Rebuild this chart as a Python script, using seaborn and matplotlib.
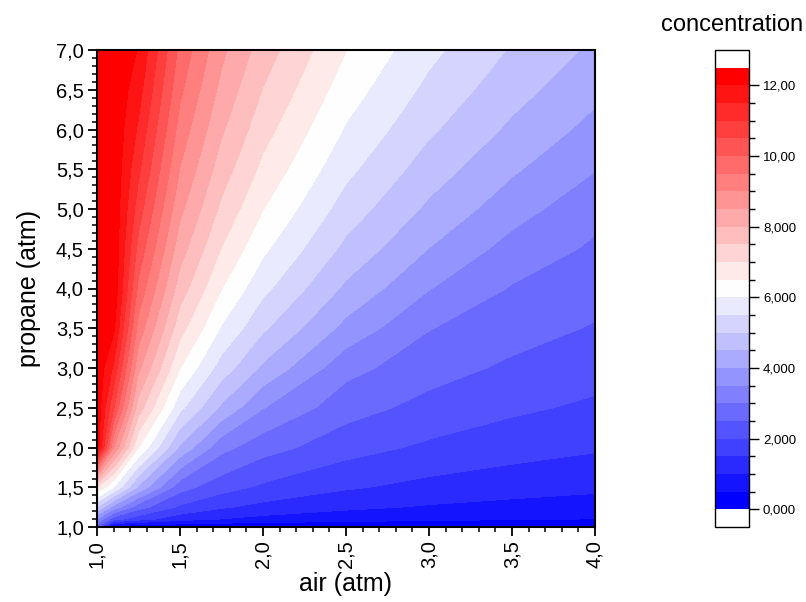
# -*- coding: utf-8 -*-
import numpy as np
import matplotlib
matplotlib.use("Agg")
import matplotlib.pyplot as plt
import seaborn as sns
from matplotlib.colors import ListedColormap, BoundaryNorm
from matplotlib.cm import ScalarMappable
from matplotlib.ticker import MultipleLocator, FixedLocator, FuncFormatter

# Grid: air pressure (x) and propane pressure (y), in atm
air_atm = [1.0, 1.1, 1.25, 1.5, 1.75, 2.0, 2.5, 3.0, 3.5, 4.0]
propane_atm = [1.0, 1.1, 1.25, 1.5, 2.0, 2.5, 3.0, 3.5, 4.0, 4.5, 5.0, 5.5, 6.0, 6.5, 7.0]

# Concentration, one row per propane value (bottom to top), one column per air value
concentration = [
    [2.5, 0.05, 0.05, 0.05, 0.05, 0.05, 0.05, 0.05, 0.05, 0.05],
    [3.5, 2.20, 1.71, 1.21, 0.99, 0.85, 0.70, 0.60, 0.54, 0.49],
    [5.0, 3.80, 2.70, 1.91, 1.56, 1.35, 1.10, 0.95, 0.85, 0.78],
    [7.0, 6.00, 4.40, 2.70, 2.20, 1.91, 1.56, 1.35, 1.21, 1.10],
    [12.4, 9.00, 6.51, 4.40, 3.16, 2.70, 2.20, 1.91, 1.71, 1.56],
    [12.4, 10.54, 7.75, 5.63, 4.40, 3.52, 2.70, 2.34, 2.09, 1.91],
    [12.4, 11.42, 8.62, 6.51, 5.27, 4.40, 3.16, 2.70, 2.41, 2.20],
    [12.4, 12.10, 9.30, 7.19, 5.95, 5.08, 3.84, 3.02, 2.70, 2.46],
    [12.4, 12.4, 9.86, 7.75, 6.51, 5.63, 4.40, 3.52, 2.96, 2.70],
    [12.4, 12.4, 10.33, 8.22, 6.98, 6.10, 4.87, 3.99, 3.31, 2.92],
    [12.4, 12.4, 10.74, 8.62, 7.39, 6.51, 5.27, 4.40, 3.71, 3.16],
    [12.4, 12.4, 11.10, 8.98, 7.75, 6.87, 5.63, 4.75, 4.07, 3.52],
    [12.4, 12.4, 11.42, 9.30, 8.07, 7.19, 5.95, 5.08, 4.40, 3.84],
    [12.4, 12.4, 11.71, 9.60, 8.36, 7.48, 6.24, 5.37, 4.69, 4.13],
    [12.4, 12.4, 11.97, 9.86, 8.62, 7.75, 6.51, 5.63, 4.95, 4.40],
]

# Colour levels and colour bar labels
levels = np.arange(0, 12.51, 0.5)
cbar_ticks = [0, 2, 4, 6, 8, 10, 12]
cbar_labels = ["0,000", "2,000", "4,000", "6,000", "8,000", "10,00", "12,00"]

sns.set_theme(style="ticks")
plt.rcParams["font.family"] = ["Liberation Sans", "DejaVu Sans"]
plt.rcParams["text.color"] = "black"
plt.rcParams["axes.labelcolor"] = "black"

# blue -> white -> red, one colour per band, pure blue and pure red at the ends
band_colors = sns.blend_palette(["#0000ff", "#ffffff", "#ff0000"], len(levels) - 1)
cmap = ListedColormap(band_colors)
cmap.set_over("white")
cmap.set_under("white")
norm = BoundaryNorm(levels, cmap.N)

fig = plt.figure(figsize=(8.06, 6.02), dpi=100)
ax = fig.add_axes([97 / 806, 75 / 602, 498 / 806, 477 / 602])
ax.contourf(air_atm, propane_atm, np.array(concentration), levels=levels, colors=band_colors)

ax.set_xlim(1, 4)
ax.set_ylim(1, 7)
comma = FuncFormatter(lambda v, pos: f"{v:.1f}".replace(".", ","))
for axis in (ax.xaxis, ax.yaxis):
    axis.set_major_locator(MultipleLocator(0.5))
    axis.set_minor_locator(MultipleLocator(0.1))
    axis.set_major_formatter(comma)
ax.tick_params(which="major", direction="out", length=6.5, width=1.3, labelsize=14.5,
               pad=3, colors="black", top=False, right=False)
ax.tick_params(which="minor", direction="out", length=3.6, width=1.1, colors="black",
               top=False, right=False)
plt.setp(ax.get_xticklabels(), rotation=90)
for s in ax.spines.values():
    s.set_linewidth(1.5)
    s.set_color("black")
ax.set_xlabel("air (atm)", fontsize=18, labelpad=3)
ax.set_ylabel("propane (atm)", fontsize=18, labelpad=11)

# Colour bar with white rectangular end boxes
cax = fig.add_axes([715 / 806, 75 / 602, 34 / 806, 477 / 602])
cb = fig.colorbar(ScalarMappable(norm=norm, cmap=cmap), cax=cax, extend="both",
                  extendrect=True, extendfrac=0.04, ticks=cbar_ticks)
cb.ax.set_yticklabels(cbar_labels)
cb.ax.yaxis.set_minor_locator(FixedLocator(np.arange(0.5, 12.5, 0.5)))
cb.ax.tick_params(which="major", direction="out", length=7, width=1, labelsize=9.5,
                  colors="black", pad=3)
cb.ax.tick_params(which="minor", direction="out", length=4, width=1, colors="black")
cb.outline.set_linewidth(1)
cb.outline.set_edgecolor("black")
fig.text(732 / 806, 1 - 31 / 602, "concentration", ha="center", va="baseline", fontsize=17)

fig.savefig("out.png", dpi=100)
